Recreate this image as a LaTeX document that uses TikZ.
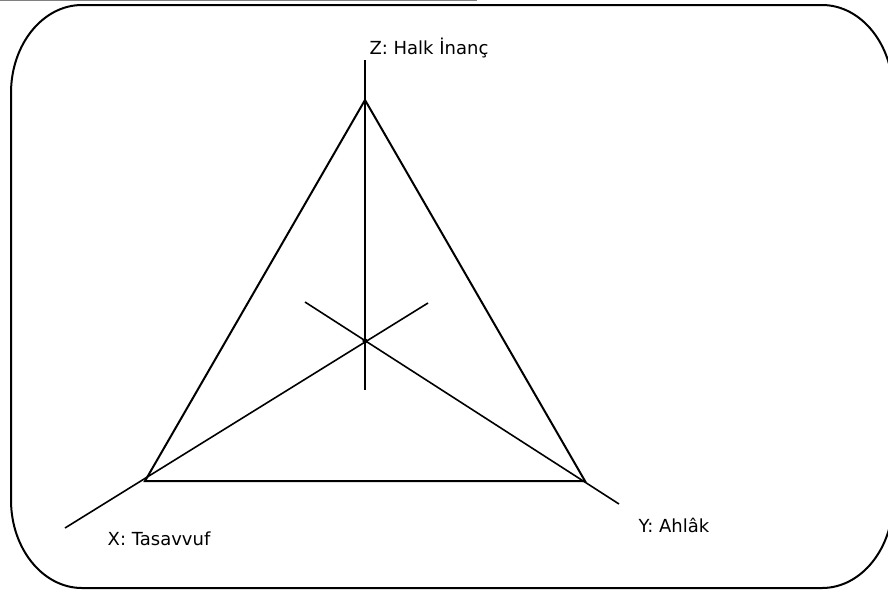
\documentclass[tikz,border=0pt]{standalone}
\usepackage{fontspec}
\setmainfont{DejaVu Sans}
\begin{document}
\begin{tikzpicture}[x=1pt,y=-1pt,
  frame/.style={line width=2pt,black},
  edge/.style={line width=2pt,black},
  axis/.style={line width=1.6pt,black},
  lbl/.style={inner sep=0pt,anchor=base,font=\fontsize{18}{20}\selectfont}]
\useasboundingbox (0,0) rectangle (888,590);
\begin{scope}
\clip (0,0) rectangle (888,590);
% gray top rule
\draw[gray,line width=1pt] (0,0.6) -- (477,0.6);
% rounded frame with elliptical corners
\draw[frame] (82,5) -- (822,5)
  arc[start angle=-90,end angle=0,x radius=71,y radius=88]
  -- (893,500)
  arc[start angle=0,end angle=90,x radius=71,y radius=88]
  -- (82,588)
  arc[start angle=90,end angle=180,x radius=71,y radius=88]
  -- (11,93)
  arc[start angle=180,end angle=270,x radius=71,y radius=88] -- cycle;
\end{scope}
% points
\coordinate (A) at (365,100);
\coordinate (B) at (145,481);
\coordinate (C) at (585,481);
\coordinate (O) at (365,341);
\coordinate (Ztop) at (365,60);
\coordinate (Zbot) at (365,390);
\coordinate (Xend) at (65,528);
\coordinate (Xtip) at (428,303);
\coordinate (Ytip) at (305,302);
\coordinate (Yend) at (619,504);
% axes
\draw[edge] (Ztop) -- (Zbot);
\draw[axis] (Xend) -- (Xtip);
\draw[axis] (Ytip) -- (Yend);
% triangle
\draw[edge,line join=miter] (A) -- (B) -- (C) -- cycle;
\fill (O) circle (2.6);
% labels
\node[lbl] (zl) at (429,54) {Z: Halk İnanç};
\node[lbl] (xl) at (159,545) {X: Tasavvuf};
\node[lbl] (yl) at (674,532) {Y: Ahlâk};
\end{tikzpicture}
\end{document}
